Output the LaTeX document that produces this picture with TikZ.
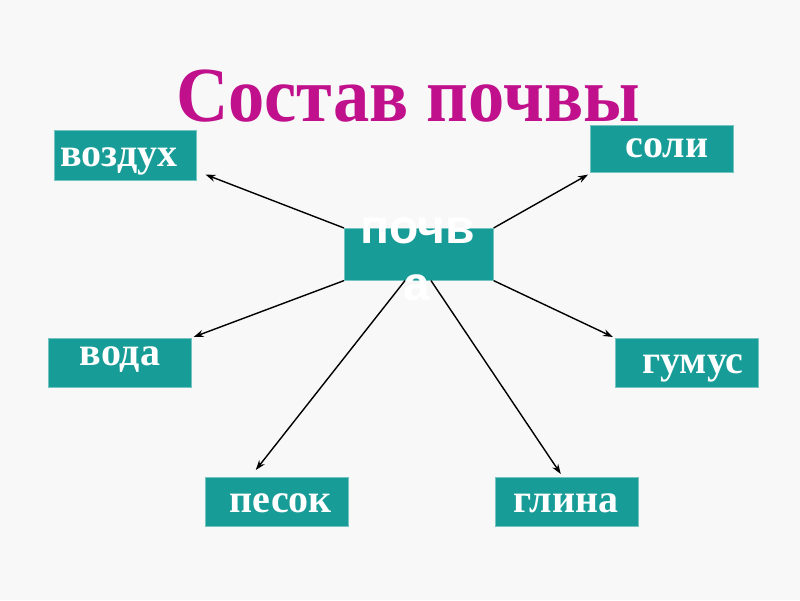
\documentclass[tikz,border=0pt]{standalone}
\usepackage{fontspec}
\setmainfont{Liberation Serif}
\newfontfamily\arialbf{Liberation Sans}
\usetikzlibrary{arrows.meta,calc}
\definecolor{bgc}{RGB}{248,248,248}
\definecolor{tealbox}{RGB}{24,156,152}
\definecolor{titlemag}{RGB}{192,16,140}
\tikzset{
  box/.style={fill=tealbox, draw=tealbox!60!white, line width=0.6pt, inner sep=0pt, anchor=north west},
  boxtext/.style={text=white, font=\fontsize{40}{44}\selectfont\bfseries, anchor=base, inner sep=0pt},
  centertext/.style={text=white, font=\arialbf\fontsize{48}{57}\selectfont\bfseries, anchor=base, inner sep=0pt},
  conn/.style={draw=black, line width=1.4pt, -{Stealth[length=10pt,width=7pt]}}
}
\begin{document}
\begin{tikzpicture}[x=1pt,y=-1pt]
\fill[bgc] (0,0) rectangle (800,600);
\useasboundingbox (0,0) rectangle (800,600);
% title
\node[text=titlemag, font=\fontsize{78}{82}\selectfont\bfseries, anchor=base, inner sep=0pt, xscale=0.93] (title) at (408,121) {Состав почвы};
% boxes
\node[box, minimum width=142pt, minimum height=50pt] (vozduh) at (54,130) {};
\node[box, minimum width=143pt, minimum height=47pt] (soli) at (590,125) {};
\node[box, minimum width=143pt, minimum height=49pt] (voda) at (48,338) {};
\node[box, minimum width=143pt, minimum height=49pt] (gumus) at (615,338) {};
\node[box, minimum width=143pt, minimum height=49pt] (pesok) at (205,477) {};
\node[box, minimum width=143pt, minimum height=49pt] (glina) at (495,477) {};
% connector tips
\coordinate (evozduh) at ($(vozduh.south east)+(9,-6)$);
\coordinate (esoli) at ($(soli.south west)+(-2,2)$);
\coordinate (evoda) at ($(voda.north east)+(2,-1)$);
\coordinate (egumus) at ($(gumus.north west)+(-2,-1)$);
\coordinate (epesok) at ($(pesok.north)+(-21,-7)$);
\coordinate (eglina) at ($(glina.north)+(-6,-3)$);
% center box
\node[box, minimum width=149pt, minimum height=52pt] (pochva) at (344,228) {};
\coordinate (spesok) at ($(pochva.south west)+(61,0)$);
\coordinate (sglina) at ($(pochva.south west)+(87,0)$);
% connectors
\draw[conn] (pochva.north west) -- (evozduh);
\draw[conn] (pochva.north east) -- (esoli);
\draw[conn] (pochva.south west) -- (evoda);
\draw[conn] (pochva.south east) -- (egumus);
\draw[conn] (spesok) -- (epesok);
\draw[conn] (sglina) -- (eglina);
% texts
\node[boxtext] (tvozduh) at (119,166) {воздух};
\node[boxtext] (tsoli) at (667,157) {соли};
\node[boxtext] (tvoda) at (120,365) {вода};
\node[boxtext] (tgumus) at (693,373) {гумус};
\node[boxtext] (tpesok) at (281,512) {песок};
\node[boxtext] (tglina) at (566,512) {глина};
\node[centertext] (tpochv) at (418,243) {почв};
\node[centertext] (tpochva) at (417,300) {а};
\end{tikzpicture}
\end{document}
